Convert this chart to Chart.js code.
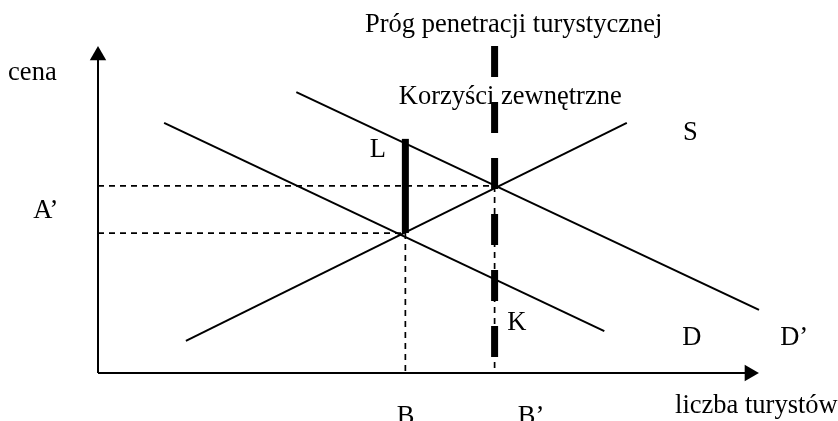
<!DOCTYPE html>
<html>
<head>
<meta charset="utf-8">
<script src="https://cdn.jsdelivr.net/npm/chart.js@4.4.1/dist/chart.umd.min.js"></script>
<style>
html,body{margin:0;padding:0;background:#fff;}
#wrap{position:relative;width:838px;height:421px;}
</style>
</head>
<body>
<div id="wrap"><canvas id="c"></canvas></div>
<script>
// Diagram coordinates: quantity (liczba turystów) 0-100, price (cena) 0-100
const demandD = [[10, 76.5], [76.6, 12.8]];          // D
const demandD2 = [[30, 85.9], [100, 19.3]];          // D'
const supplyS = [[13.3, 9.8], [80, 76.5]];           // S
const qB = 46.5, qB2 = 60;                            // B, B'
const pLow = 42.8, pHigh = 57.2;                      // equilibrium prices
const barL = [42.8, 71.6];                            // L bar (price range)
const thresholdRange = [100, 4.9];                    // Próg penetracji line extent
const axisMax = 100;

// text labels: [text, q, p]
const labels = [
  ["Próg penetracji turystycznej", 40.4, 104.3],
  ["Korzyści zewnętrzne", 45.5, 82.3],
  ["cena", -13.6, 89.6],
  ["L", 41.1, 66.1],
  ["S", 88.5, 71.3],
  ["A’", -9.8, 47.4],
  ["K", 61.9, 13.1],
  ["D", 88.4, 8.6],
  ["D’", 103.2, 8.6],
  ["B", 45.2, -15.6],
  ["B’", 63.5, -15.6],
  ["liczba turystów", 87.3, -12.2]
];

const pts = a => a.map(([x, y]) => ({x, y}));
const thin = {borderColor:'#000', borderWidth:2, pointRadius:0, showLine:true, fill:false, clip:false};
const dashed = {borderColor:'#000', borderWidth:1.7, pointRadius:0, showLine:true, fill:false, borderDash:[6,5], clip:false};
const arrow = {pointStyle:'triangle', pointRadius:9.5, backgroundColor:'#000', borderColor:'#000', borderWidth:0, showLine:false, clip:false};

const datasets = [
  // axes
  {...thin, data: pts([[0,0],[0,axisMax - 4]])},
  {...thin, data: pts([[0,0],[axisMax - 2,0]])},
  {...arrow, data: [{x:0, y:axisMax - 2.9}]},
  {...arrow, rotation:90, data: [{x:axisMax - 1.45, y:0}]},
  // dashed guides
  {...dashed, data: pts([[0,pHigh],[qB2,pHigh]])},
  {...dashed, data: pts([[0,pLow],[qB,pLow]])},
  {...dashed, data: pts([[qB,pLow],[qB,0]])},
  {...dashed, data: pts([[qB2,pHigh],[qB2,0]])},
  // curves
  {...thin, data: pts(demandD)},
  {...thin, data: pts(demandD2)},
  {...thin, data: pts(supplyS)},
  // L bar
  {...thin, borderWidth:7, borderCapStyle:'butt', data: pts([[qB,barL[0]],[qB,barL[1]]])},
  // threshold thick dashed
  {...thin, borderWidth:7, borderCapStyle:'butt', borderDash:[31,25], data: pts([[qB2,thresholdRange[0]],[qB2,thresholdRange[1]]])}
];

const textPlugin = {
  id:'texts',
  afterDatasetsDraw(chart){
    const {ctx, scales:{x, y}} = chart;
    ctx.save();
    ctx.fillStyle = '#000';
    ctx.font = '26.5px "Liberation Serif", "Times New Roman", serif';
    ctx.textAlign = 'left';
    ctx.textBaseline = 'alphabetic';
    labels.forEach(([t, q, p]) => ctx.fillText(t, x.getPixelForValue(q), y.getPixelForValue(p)));
    ctx.restore();
  }
};

new Chart(document.getElementById('c'), {
  type:'scatter',
  data:{datasets},
  options:{
    responsive:true,
    maintainAspectRatio:false,
    animation:false,
    layout:{padding:{left:98, top:46, right:79, bottom:48}},
    plugins:{legend:{display:false}, tooltip:{enabled:false}},
    elements:{line:{tension:0}},
    scales:{
      x:{type:'linear', min:0, max:axisMax, display:false},
      y:{type:'linear', min:0, max:axisMax, display:false}
    }
  },
  plugins:[textPlugin]
});
</script>
</body>
</html>
